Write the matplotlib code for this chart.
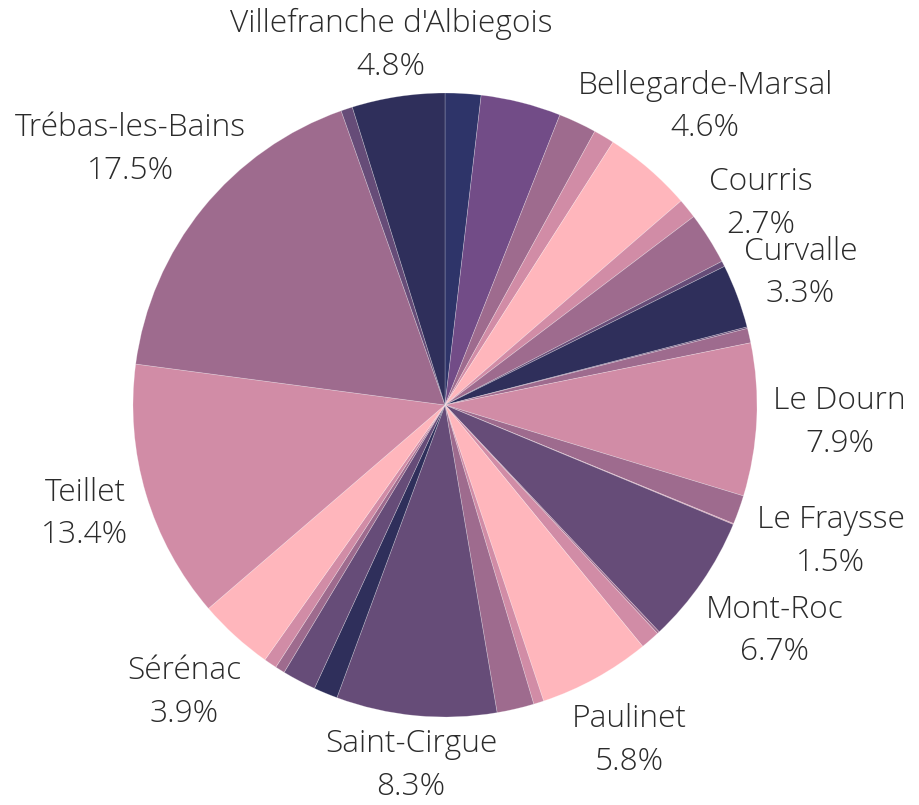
import matplotlib
matplotlib.use("Agg")
import matplotlib.pyplot as plt
import numpy as np

# communes, alphabetical, clockwise from 12 o'clock
communes = [
    "Alban", "Ambialet", "Andouque", "Assac", "Bellegarde-Marsal", "Cadix",
    "Courris", "Crespinet", "Curvalle", "Faussergues", "Fraissines", "Le Dourn",
    "Le Fraysse", "Massals", "Mont-Roc", "Moularès", "Padiès", "Paulinet",
    "Rayssac", "Saint-André", "Saint-Cirgue", "Saint-Julien-Gaulène",
    "Saint-Michel-Labadié", "Saint-Salvi", "Sainte-Gemme", "Sérénac", "Teillet",
    "Trébas-les-Bains", "Valence-d'Albigeois", "Villefranche d'Albiegois",
]
shares = [
    1.85, 4.15, 1.97, 1.08, 4.6, 1.03,
    2.7, 0.29, 3.3, 0.08, 0.75, 7.9,
    1.5, 0.05, 6.7, 0.12, 1.0, 5.8,
    0.53, 1.92, 8.3, 1.24,
    1.75, 0.5, 0.67, 3.9, 13.4,
    17.5, 0.6, 4.8,
]
labelled = [
    "Bellegarde-Marsal", "Courris", "Curvalle", "Le Dourn", "Le Fraysse",
    "Mont-Roc", "Paulinet", "Saint-Cirgue", "Sérénac", "Teillet",
    "Trébas-les-Bains", "Villefranche d'Albiegois",
]

NB = "#2e3469"
NV = "#2f2f5b"
PU = "#724c87"
DP = "#664c78"
MV = "#9e6b8e"
PK = "#d18ca6"
LP = "#ffb6bc"
colors = [NB, PU, MV, PK, LP, PK, MV, DP, NV, DP, MV, PK, MV, PK, DP, MV, PK, LP,
          PK, MV, DP, NV, DP, MV, PK, LP, PK, MV, DP, NV]

# label offsets from the rim point at the slice mid-angle (pixels, +x right, +y down)
label_nudge = {
    "Bellegarde-Marsal": (56, -62),
    "Courris": (52, -35),
    "Curvalle": (63, -23),
    "Le Dourn": (83, 3),
    "Le Fraysse": (92, 32),
    "Mont-Roc": (73, 49),
    "Paulinet": (34, 62),
    "Saint-Cirgue": (-5, 50),
    "Sérénac": (-51, 57),
    "Teillet": (-61, 20),
    "Trébas-les-Bains": (-72, -59),
    "Villefranche d'Albiegois": (-7, -51),
}

W, H = 920, 805
cx, cy, R = 445, 400, 312  # pie centre (from bottom) and radius in px

fig = plt.figure(figsize=(W / 100, H / 100), dpi=100)
ax = fig.add_axes([(cx - R) / W, (cy - R) / H, 2 * R / W, 2 * R / H])

wedges, _ = ax.pie(shares, colors=colors, startangle=90, counterclock=False,
                   radius=1, wedgeprops=dict(edgecolor=(1, 1, 1, 0.3), linewidth=0.5))
ax.set_xlim(-1, 1)
ax.set_ylim(-1, 1)
ax.set_aspect("equal")
ax.axis("off")

total = sum(shares)
for name, w, v in zip(communes, wedges, shares):
    if name not in labelled:
        continue
    mid = np.deg2rad((w.theta1 + w.theta2) / 2)
    dx, dy = label_nudge[name]
    x = np.cos(mid) + dx / R
    y = np.sin(mid) - dy / R
    ax.text(x, y, f"{name}\n{v / total * 100:.1f}%", ha="center", va="center",
            fontsize=22.8, family="Open Sans", fontweight="light",
            color="#2b2b2b", linespacing=1.45)

fig.savefig("out.png", dpi=100)
